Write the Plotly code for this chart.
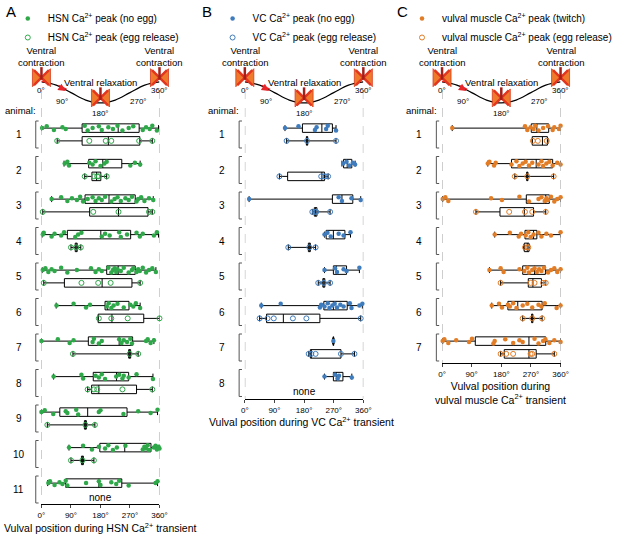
import plotly.graph_objects as go

FONT = "Liberation Sans, Arial, sans-serif"

ANGLE_TICKS = [0, 90, 180, 270, 360]
ANGLE_TEXT = ["0°", "90°", "180°", "270°", "360°"]

# schematic of the vulval cycle (angle, depth of the curve)
CYCLE_ANGLES = [0, 45, 90, 135, 180, 225, 270, 315, 360]
CYCLE_DEPTH = [-0.48, -0.39, -0.18, 0.03, 0.11, 0.03, -0.18, -0.39, -0.48]

# ---- panel A: HSN  (lo, q1, median, q3, hi) per animal
hsn_noegg_stats = [
    (0, 124, 234, 298, 357), (69, 144, 187, 245, 301), (31, 133, 206, 286, 341),
    (2, 79, 181, 272, 357), (2, 199, 234, 286, 349), (45, 194, 202, 267, 301),
    (0, 143, 237, 278, 343), (37, 158, 229, 266, 340), (0, 56, 141, 261, 354),
    (84, 178, 254, 334, 360), (19, 74, 175, 245, 354),
]
hsn_egg_stats = [
    (48, 124, 204, 300, 338), (132, 154, 168, 181, 199), (4, 147, 235, 325, 338),
    (90, 103, 106, 109, 120), (7, 70, 185, 276, 301), (173, 173, 215, 312, 360),
    (96, 266, 269, 272, 295), (141, 153, 175, 290, 338), (18, 131, 134, 137, 163),
    (90, 122, 125, 128, 160), None,
]
hsn_noegg_pts = [
    [2, 16, 38, 64, 74, 132, 141, 156, 175, 184, 204, 218, 232, 247, 266, 280, 309, 319, 330, 338, 352],
    [71, 79, 84, 146, 156, 165, 180, 192, 199, 271, 285, 301],
    [31, 60, 79, 93, 108, 118, 127, 141, 156, 165, 175, 184, 194, 213, 223, 232, 242, 256, 266, 276,
     290, 295, 304, 314, 328, 341],
    [4, 7, 31, 40, 60, 69, 103, 112, 122, 184, 194, 208, 237, 242, 261, 290, 300, 309, 343, 352],
    [4, 12, 21, 31, 40, 60, 79, 108, 151, 165, 175, 184, 204, 213, 218, 223, 228, 232, 242, 251, 266,
     276, 280, 290, 295, 300, 309, 319, 328, 338, 349],
    [46, 98, 136, 148, 199, 205, 213, 220, 232, 251, 271, 280, 288, 301],
    [0, 50, 86, 98, 156, 160, 175, 184, 237, 244, 251, 261, 271, 276, 319, 324, 333, 343],
    [37, 122, 127, 165, 175, 184, 194, 228, 237, 247, 251, 266, 290, 340],
    [0, 10, 36, 74, 79, 106, 112, 175, 180, 250, 295, 333, 354],
    [84, 127, 154, 175, 194, 204, 218, 230, 256, 309, 314, 319, 324, 328, 343, 348, 352, 357, 360],
    [21, 26, 40, 55, 64, 74, 79, 136, 175, 180, 213, 228, 237, 266, 348, 354],
]
hsn_egg_pts = [
    [48, 146, 196, 213, 298, 338], [132, 160, 170, 175, 199], [4, 158, 235, 328, 338],
    [90, 106, 120], [7, 122, 173, 211, 301], [175, 213, 263, 360], [96, 269, 295],
    [141, 160, 170, 247, 338], [18, 134, 163], [90, 125, 160], [],
]

# ---- panel B: VC
vc_noegg_stats = [
    (122, 175, 234, 266, 277), (295, 300, 311, 325, 335), (13, 266, 295, 328, 352),
    (242, 247, 269, 304, 321), (242, 269, 278, 309, 348), (50, 240, 269, 311, 357),
    (267, 268, 269, 270, 271), (242, 269, 278, 298, 325),
]
vc_egg_stats = [
    (127, 187, 189, 191, 277), (105, 130, 234, 242, 253), (205, 211, 215, 219, 259),
    (132, 193, 196, 199, 215), (223, 237, 240, 243, 259), (45, 66, 117, 228, 352),
    (194, 199, 202, 292, 333), None,
]
vc_noegg_pts = [
    [122, 163, 213, 218, 247, 252, 277], [299, 309, 317, 328, 335], [13, 285, 295, 324, 352],
    [242, 251, 261, 285, 300, 321], [242, 274, 280, 300, 309, 348],
    [50, 109, 228, 232, 242, 252, 257, 266, 273, 280, 290, 300, 319, 324, 348, 357],
    [269], [242, 274, 282, 286, 325],
]
vc_egg_pts = [
    [127, 189, 277], [105, 232, 240, 245, 253], [205, 213, 217, 259], [132, 196, 215],
    [223, 240, 259], [45, 69, 88, 146, 187, 352], [194, 202, 215, 292, 333], [],
]

# ---- panel C: vulval muscles
vm_noegg_stats = [
    (31, 271, 288, 324, 360), (139, 211, 286, 336, 360), (2, 256, 315, 326, 360),
    (160, 252, 278, 288, 360), (144, 245, 281, 314, 360), (151, 200, 230, 304, 360),
    (2, 101, 264, 315, 360),
]
vm_egg_stats = [
    (274, 274, 305, 320, 322), (221, 257, 259, 261, 339), (103, 176, 250, 278, 315),
    (248, 250, 259, 264, 266), (178, 262, 276, 302, 315), (245, 272, 274, 276, 304),
    (178, 189, 264, 286, 341),
]
vm_noegg_pts = [
    [31, 252, 259, 269, 278, 283, 293, 307, 322, 336, 341, 355, 360],
    [139, 144, 158, 163, 211, 226, 235, 245, 254, 264, 274, 293, 302, 307, 317, 326, 336, 350, 360],
    [2, 10, 19, 149, 182, 235, 264, 293, 302, 312, 317, 322, 331, 341, 350, 360],
    [160, 206, 233, 240, 254, 262, 269, 278, 293, 302, 317, 331, 360],
    [144, 178, 187, 235, 250, 259, 264, 274, 281, 288, 295, 302, 310, 322, 331, 341, 350, 360],
    [151, 173, 182, 200, 206, 216, 226, 245, 259, 274, 293, 302, 312, 348, 360],
    [2, 7, 19, 43, 82, 91, 156, 160, 192, 216, 235, 245, 281, 293, 307, 314, 326, 341, 360],
]
vm_egg_pts = [
    [276, 291, 318], [221, 259, 339], [103, 204, 252, 274, 315], [252, 259, 262],
    [178, 269, 281, 307, 315], [245, 274, 304], [178, 195, 216, 269, 274, 341],
]

GREEN = "#2fa84a"
BLUE = "#3f7cbd"
ORANGE = "#e27d26"

# layout geometry (pixels of a 617 x 534 figure)
W, H = 617, 534
ROW0, ROWSTEP, HALF = 134.5, 35.5, 0.18


def unit(py):
    return 1 + (py - ROW0) / ROWSTEP


def label(text, x, y, size, **kw):
    d = dict(x=x, y=y, text=text, showarrow=False, font=dict(size=size),
             xanchor="center", yanchor="middle")
    d.update(kw)
    return d


panels = [
    dict(col=1, x0=39.5, x1=164, bottom=504, color=GREEN, letter="A", lx=7,
         noegg=(hsn_noegg_stats, hsn_noegg_pts), egg=(hsn_egg_stats, hsn_egg_pts),
         names=("HSN Ca<sup>2+</sup> peak (no egg)", "HSN Ca<sup>2+</sup> peak (egg release)"),
         title="Vulval position during HSN Ca<sup>2+</sup> transient", tx=102, ty=527, leg_x=4),
    dict(col=2, x0=254, x1=379, bottom=399, color=BLUE, letter="B", lx=214,
         noegg=(vc_noegg_stats, vc_noegg_pts), egg=(vc_egg_stats, vc_egg_pts),
         names=("VC Ca<sup>2+</sup> peak (no egg)", "VC Ca<sup>2+</sup> peak (egg release)"),
         title="Vulval position during VC Ca<sup>2+</sup> transient", tx=314, ty=421, leg_x=220),
    dict(col=3, x0=462, x1=587, bottom=363, color=ORANGE, letter="C", lx=420,
         noegg=(vm_noegg_stats, vm_noegg_pts), egg=(vm_egg_stats, vm_egg_pts),
         names=("vulval muscle Ca<sup>2+</sup> peak (twitch)",
                "vulval muscle Ca<sup>2+</sup> peak (egg release)"),
         title="Vulval position during<br>vulval muscle Ca<sup>2+</sup> transient",
         tx=524, ty=393, leg_x=420),
]

JITTER = [0, -0.05, 0.05, -0.025, 0.025, -0.07, 0.07]

fig = go.Figure()
shapes = []
annotations = []

for p in panels:
    c = p["col"]
    xa = "x" if c == 1 else f"x{c}"
    ya = "y" if c == 1 else f"y{c}"
    leg = "legend" if c == 1 else f"legend{c}"
    col = p["color"]
    n = len(p["noegg"][0])

    # boxes
    for kind, off in (("noegg", -HALF), ("egg", HALF)):
        stats = p[kind][0]
        rows = [(i + 1 + off, s) for i, s in enumerate(stats) if s is not None]
        fig.add_trace(go.Box(
            y=[r[0] for r in rows],
            lowerfence=[r[1][0] for r in rows], q1=[r[1][1] for r in rows],
            median=[r[1][2] for r in rows], q3=[r[1][3] for r in rows],
            upperfence=[r[1][4] for r in rows],
            orientation="h", width=0.24, whiskerwidth=0.7,
            line=dict(color="black", width=1), fillcolor="rgba(255,255,255,0)",
            boxpoints=False, hoverinfo="skip", showlegend=False,
            xaxis=xa, yaxis=ya,
        ))

    # points
    for kind, off, sym, idx in (("noegg", -HALF, "circle", 0), ("egg", HALF, "circle-open", 1)):
        xs, ys = [], []
        for i, pts in enumerate(p[kind][1]):
            for j, v in enumerate(pts):
                xs.append(v)
                jit = JITTER[j % len(JITTER)] if kind == "noegg" else 0
                ys.append(i + 1 + off + jit)
        fig.add_trace(go.Scatter(
            x=xs, y=ys, mode="markers", name=p["names"][idx],
            marker=dict(symbol=sym, size=4.5 if idx == 0 else 5, color=col,
                        line=dict(width=0 if idx == 0 else 1, color=col)),
            cliponaxis=False, xaxis=xa, yaxis=ya, legend=leg,
        ))

    # schematic curve
    fig.add_trace(go.Scatter(
        x=CYCLE_ANGLES, y=CYCLE_DEPTH, mode="lines", line=dict(color="black", width=1.2, shape="spline"),
        showlegend=False, hoverinfo="skip", xaxis=xa, yaxis=ya,
    ))
    fig.add_trace(go.Scatter(
        x=CYCLE_ANGLES[:3], y=[d - 0.02 for d in CYCLE_DEPTH[:3]], mode="lines",
        line=dict(color="#e8262a", width=1.5, dash="dash", shape="spline"),
        showlegend=False, hoverinfo="skip", xaxis=xa, yaxis=ya,
    ))
    icon_x = [CYCLE_ANGLES[0], CYCLE_ANGLES[4], CYCLE_ANGLES[8]]
    icon_y = [CYCLE_DEPTH[0] - 0.12, CYCLE_DEPTH[4] - 0.14, CYCLE_DEPTH[8] - 0.12]
    fig.add_trace(go.Scatter(
        x=icon_x, y=icon_y, mode="markers",
        marker=dict(symbol="bowtie", size=18, color="#f07a2c", line=dict(color="#d8381e", width=0.8)),
        cliponaxis=False, showlegend=False, hoverinfo="skip", xaxis=xa, yaxis=ya,
    ))
    fig.add_trace(go.Scatter(
        x=icon_x, y=icon_y, mode="markers",
        marker=dict(symbol="x-thin", size=15, line=dict(color="#e2361f", width=2.5)),
        cliponaxis=False, showlegend=False, hoverinfo="skip", xaxis=xa, yaxis=ya,
    ))
    fig.add_trace(go.Scatter(
        x=icon_x, y=[v - 0.12 for v in icon_y], mode="markers",
        marker=dict(symbol="line-ns", size=9, line=dict(color="#a3201a", width=2.5)),
        cliponaxis=False, showlegend=False, hoverinfo="skip", xaxis=xa, yaxis=ya,
    ))

    # dashed reference lines at 0 and 360
    for v in (0, 360):
        shapes.append(dict(type="line", xref=xa, yref=ya, x0=v, x1=v, y0=unit(90), y1=unit(p["bottom"]),
                           line=dict(color="#a0a0a0", width=1, dash="dash")))

    # brackets and animal numbers
    bx = (p["x0"] - 6) / W
    bt = (p["x0"] - 3) / W
    for i in range(n):
        yt, yb = i + 1 - HALF - 0.2, i + 1 + HALF + 0.2
        shapes.append(dict(type="path", xref="paper", yref=ya,
                           path=f"M {bt} {yt} L {bx} {yt} L {bx} {yb} L {bt} {yb}",
                           line=dict(color="#555555", width=1)))
        annotations.append(label(str(i + 1), (p["x0"] - 24) / W, i + 1, 10, xref="paper", yref=ya))
    annotations.append(label("animal:", (p["x0"] - 22) / W, unit(110), 9.5, xref="paper", yref=ya))

    for i, s in enumerate(p["egg"][0]):
        if s is None:
            annotations.append(label("none", 180, i + 1 + HALF + 0.05, 10, xref=xa, yref=ya))

    # schematic labels
    annotations += [
        label("Ventral<br>contraction", 0, unit(56.5), 9.5, xref=xa, yref=ya),
        label("Ventral<br>contraction", 360, unit(56.5), 9.5, xref=xa, yref=ya),
        label("Ventral relaxation", 180, unit(82), 9.5, xref=xa, yref=ya),
        label("0°", 0, unit(90), 8, xref=xa, yref=ya),
        label("90°", 64, unit(101), 8, xref=xa, yref=ya),
        label("180°", 180, unit(113), 8, xref=xa, yref=ya),
        label("270°", 296, unit(101), 8, xref=xa, yref=ya),
        label("360°", 360, unit(90), 8, xref=xa, yref=ya),
        dict(x=74, y=unit(91), ax=55, ay=unit(87), xref=xa, yref=ya, axref=xa, ayref=ya, text="",
             showarrow=True, arrowhead=2, arrowsize=1, arrowwidth=1.5, arrowcolor="#e8262a"),
        label(p["letter"], p["lx"] / W, 1 - 11 / H, 15, xref="paper", yref="paper"),
        label(p["title"], p["tx"] / W, 1 - p["ty"] / H, 10.5, xref="paper", yref="paper"),
    ]

    axis_x = dict(domain=[p["x0"] / W, p["x1"] / W], range=[0, 360], anchor=ya,
                  tickvals=ANGLE_TICKS, ticktext=ANGLE_TEXT, ticks="outside", ticklen=3,
                  tickfont=dict(size=8), showline=True, linecolor="black", linewidth=1,
                  showgrid=False, zeroline=False)
    axis_y = dict(domain=[1 - p["bottom"] / H, 1], range=[unit(p["bottom"]), unit(0)], anchor=xa,
                  visible=False, showgrid=False, zeroline=False)
    fig.update_layout({("xaxis" if c == 1 else f"xaxis{c}"): axis_x,
                       ("yaxis" if c == 1 else f"yaxis{c}"): axis_y,
                       leg: dict(x=p["leg_x"] / W, y=1 - 4 / H, xanchor="left", yanchor="top",
                                 bgcolor="rgba(0,0,0,0)", font=dict(size=10), itemwidth=30,
                                 tracegroupgap=0)})

fig.update_layout(
    width=W, height=H, margin=dict(l=0, r=0, t=0, b=0),
    paper_bgcolor="white", plot_bgcolor="white",
    font=dict(family=FONT, color="black"),
    shapes=shapes, annotations=annotations,
)

fig.write_html("out.html", config={"displayModeBar": False},
               post_script="document.body.style.margin = '0';")
